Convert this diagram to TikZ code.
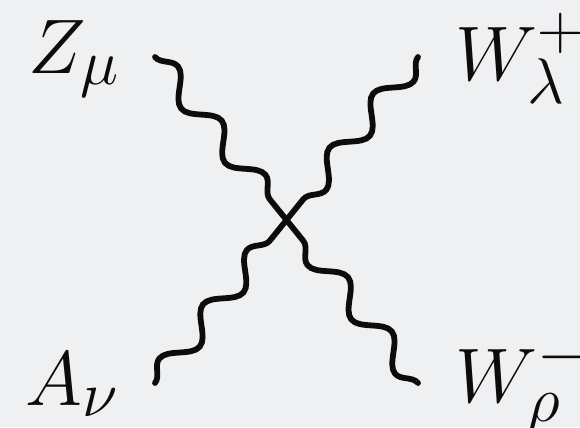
\documentclass[tikz,border=0pt]{standalone}
\usepackage{xcolor}
\usepackage{tikz}
\usetikzlibrary{decorations.pathmorphing}

\definecolor{slidebg}{RGB}{239,240,242}
\definecolor{ink}{RGB}{12,12,12}

\begin{document}
\begin{tikzpicture}[x=0.02cm,y=-0.02cm,font=\Huge,
  boson/.style={ink,line width=3.3pt,line cap=round,decorate,
    decoration={snake,segment length=1.393cm,amplitude=0.24cm}},
  lbl/.style={anchor=base west,inner sep=0pt,text=ink,scale=1.77}]
\path[use as bounding box,fill=slidebg] (0,0) rectangle (580,427);

% vertex and outer ends
\coordinate (v) at (286.5,220);
\coordinate (ez) at (155,57);
\coordinate (ewp) at (418,57);
\coordinate (ea) at (155,383);
\coordinate (ewm) at (418,383);

% labels
\node[lbl] (zmu) at (28,73) {$Z_\mu$};
\node[lbl] (wplus) at (455,80) {$W^+_\lambda$};
\node[lbl] (anu) at (25,405) {$A_\nu$};
\node[lbl] (wminus) at (455,402) {$W^-_\rho$};

% boson lines
\draw[boson] (ez) -- (v);
\draw[boson] (ewp) -- (v);
\draw[boson] (ea) -- (v);
\draw[boson] (ewm) -- (v);
\end{tikzpicture}
\end{document}
